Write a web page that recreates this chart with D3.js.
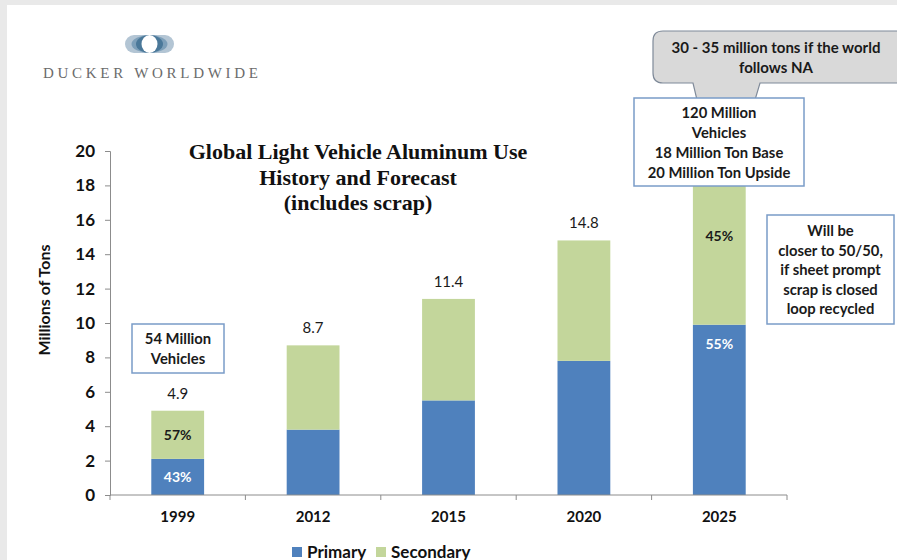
<!DOCTYPE html>
<html>
<head>
<meta charset="utf-8">
<script src="https://cdn.jsdelivr.net/npm/d3@7"></script>
<style>
  html, body { margin: 0; padding: 0; background: #e9e9e9; }
  svg { display: block; }
</style>
</head>
<body>
<svg id="chart" width="897" height="560"></svg>
<script>
// Global light vehicle aluminum use, millions of tons
const years = ["1999", "2012", "2015", "2020", "2025"];
const totals = [4.9, 8.7, 11.4, 14.8, 18];
const primary = [2.1, 3.8, 5.5, 7.8, 9.9];
const secondary = totals.map((t, i) => +(t - primary[i]).toFixed(1));
const totalLabels = ["4.9", "8.7", "11.4", "14.8", ""];
const primaryPct = ["43%", "", "", "", "55%"];
const secondaryPct = ["57%", "", "", "", "45%"];
const yTicks = [0, 2, 4, 6, 8, 10, 12, 14, 16, 18, 20];
const seriesNames = ["Primary", "Secondary"];
const colors = { Primary: "#4f81bd", Secondary: "#c3d69b" };

const sans = "Lato, 'Open Sans', sans-serif";
const serif = "'Liberation Serif', 'DejaVu Serif', serif";

const svg = d3.select("#chart");

// white slide panel
svg.append("rect").attr("x", 7).attr("y", 5).attr("width", 890).attr("height", 555).attr("fill", "#ffffff");

const x = d3.scaleBand().domain(years).range([110, 787]).paddingInner(0.61).paddingOuter(0.305);
const y = d3.scaleLinear().domain([0, 20]).range([495, 151]);

// stacked bars
const rows = years.map((yr, i) => ({ year: yr, Primary: primary[i], Secondary: secondary[i] }));
const stacked = d3.stack().keys(seriesNames)(rows);

svg.append("g").selectAll("g").data(stacked).join("g")
  .attr("fill", d => colors[d.key])
  .selectAll("rect").data(d => d).join("rect")
  .attr("x", d => x(d.data.year))
  .attr("y", d => y(d[1]))
  .attr("width", x.bandwidth())
  .attr("height", d => y(d[0]) - y(d[1]));

// y axis
const yAxis = d3.axisLeft(y).tickValues(yTicks).tickSize(5).tickPadding(10);
const gy = svg.append("g").attr("transform", "translate(110,0)").call(yAxis);
gy.select(".domain").attr("stroke", "#8c8c8c");
gy.selectAll(".tick line").attr("stroke", "#8c8c8c");
gy.selectAll(".tick text").attr("font-family", sans).attr("font-weight", "bold")
  .attr("font-size", 17).attr("fill", "#111");

// x axis: line with ticks on category boundaries
const step = x.step();
const boundaries = d3.range(years.length + 1).map(i => x.range()[0] + i * step);
svg.append("line").attr("x1", 110).attr("x2", boundaries[boundaries.length - 1])
  .attr("y1", y(0)).attr("y2", y(0)).attr("stroke", "#8c8c8c");
svg.append("g").selectAll("line").data(boundaries).join("line")
  .attr("x1", d => d).attr("x2", d => d).attr("y1", y(0)).attr("y2", y(0) + 5)
  .attr("stroke", "#8c8c8c");
svg.append("g").selectAll("text").data(years).join("text")
  .attr("x", d => x(d) + x.bandwidth() / 2).attr("y", 522)
  .attr("text-anchor", "middle").attr("font-family", sans).attr("font-weight", "bold")
  .attr("font-size", 15).attr("fill", "#111").text(d => d);

// y axis title
svg.append("text").attr("transform", "translate(50,300) rotate(-90)")
  .attr("text-anchor", "middle").attr("font-family", sans).attr("font-weight", "bold")
  .attr("font-size", 16).attr("fill", "#111").text("Millions of Tons");

// total labels above bars
svg.append("g").selectAll("text").data(years).join("text")
  .attr("x", d => x(d) + x.bandwidth() / 2)
  .attr("y", (d, i) => y(totals[i]) - 12)
  .attr("text-anchor", "middle").attr("font-family", sans).attr("font-size", 15)
  .attr("fill", "#1a1a1a").text((d, i) => totalLabels[i]);

// share labels inside the segments
svg.append("g").selectAll("text").data(years).join("text")
  .attr("x", d => x(d) + x.bandwidth() / 2)
  .attr("y", (d, i) => i === 4 ? y(primary[i]) + 24 : y(primary[i] / 2) + 5)
  .attr("text-anchor", "middle").attr("font-family", sans).attr("font-weight", "bold")
  .attr("font-size", 14).attr("fill", "#ffffff").text((d, i) => primaryPct[i]);
svg.append("g").selectAll("text").data(years).join("text")
  .attr("x", d => x(d) + x.bandwidth() / 2)
  .attr("y", (d, i) => i === 4 ? y(totals[i]) + 56 : y(primary[i] + secondary[i] / 2) + 5)
  .attr("text-anchor", "middle").attr("font-family", sans).attr("font-weight", "bold")
  .attr("font-size", 14).attr("fill", "#1a1a1a").text((d, i) => secondaryPct[i]);

// chart title
const titleLines = ["Global Light Vehicle Aluminum Use", "History and Forecast", "(includes scrap)"];
svg.append("g").selectAll("text").data(titleLines).join("text")
  .attr("x", 358).attr("y", (d, i) => 159 + i * 25.5)
  .attr("text-anchor", "middle").attr("font-family", serif).attr("font-weight", "bold")
  .attr("font-size", 22).attr("fill", "#111").text(d => d);

// note boxes
function noteBox(x0, y0, w, h, lines, lineH, firstBase) {
  const g = svg.append("g");
  g.append("rect").attr("x", x0).attr("y", y0).attr("width", w).attr("height", h)
    .attr("fill", "#ffffff").attr("stroke", "#7a9cc8").attr("stroke-width", 1.5);
  g.selectAll("text").data(lines).join("text")
    .attr("x", x0 + w / 2).attr("y", (d, i) => y0 + firstBase + i * lineH)
    .attr("text-anchor", "middle").attr("font-family", sans).attr("font-weight", "bold")
    .attr("font-size", 14.8).attr("fill", "#1a1a1a").text(d => d);
}

// grey callout with a tail pointing down
const callout = svg.append("g");
callout.append("path")
  .attr("d", "M663,31 H905 V83 H760 L755,100 H697 L693,83 H663 Q653,83 653,73 V41 Q653,31 663,31 Z")
  .attr("fill", "#d9d9d9").attr("stroke", "#7f8a99").attr("stroke-width", 1.2);
callout.selectAll("text").data(["30 - 35 million tons if the world", "follows NA"]).join("text")
  .attr("x", 776).attr("y", (d, i) => 53 + i * 20)
  .attr("text-anchor", "middle").attr("font-family", sans).attr("font-weight", "bold")
  .attr("font-size", 15).attr("fill", "#1a1a1a").text(d => d);

noteBox(132, 324, 92, 49, ["54 Million", "Vehicles"], 20, 20);
noteBox(634, 98, 170, 88, ["120 Million", "Vehicles", "18 Million Ton Base", "20 Million Ton Upside"], 20, 20);
noteBox(767, 215, 127, 109, ["Will be", "closer to 50/50,", "if sheet prompt", "scrap is closed", "loop recycled"], 19.5, 21);

// legend
const legend = svg.append("g").attr("transform", "translate(292,547)");
const legendX = [0, 84];
seriesNames.forEach((name, i) => {
  legend.append("rect").attr("x", legendX[i]).attr("y", 0).attr("width", 10).attr("height", 10)
    .attr("fill", colors[name]);
  legend.append("text").attr("x", legendX[i] + 15).attr("y", 10.5)
    .attr("font-family", sans).attr("font-weight", "bold").attr("font-size", 17)
    .attr("fill", "#111").text(name);
});

// company logo
const logo = svg.append("g");
logo.append("rect").attr("x", 125).attr("y", 35).attr("width", 49).attr("height", 18).attr("rx", 9)
  .attr("fill", "#b3c5d4");
logo.append("ellipse").attr("cx", 149.5).attr("cy", 44).attr("rx", 18).attr("ry", 9).attr("fill", "#7d9fb9");
logo.append("ellipse").attr("cx", 149.5).attr("cy", 44).attr("rx", 13.5).attr("ry", 9).attr("fill", "#4a7899");
logo.append("ellipse").attr("cx", 149.5).attr("cy", 44).attr("rx", 8).attr("ry", 9).attr("fill", "#ffffff");
logo.append("text").attr("x", 43).attr("y", 78).attr("textLength", 215)
  .attr("font-family", serif).attr("font-size", 15).attr("fill", "#6b6b6b").text("DUCKER WORLDWIDE");
</script>
</body>
</html>
